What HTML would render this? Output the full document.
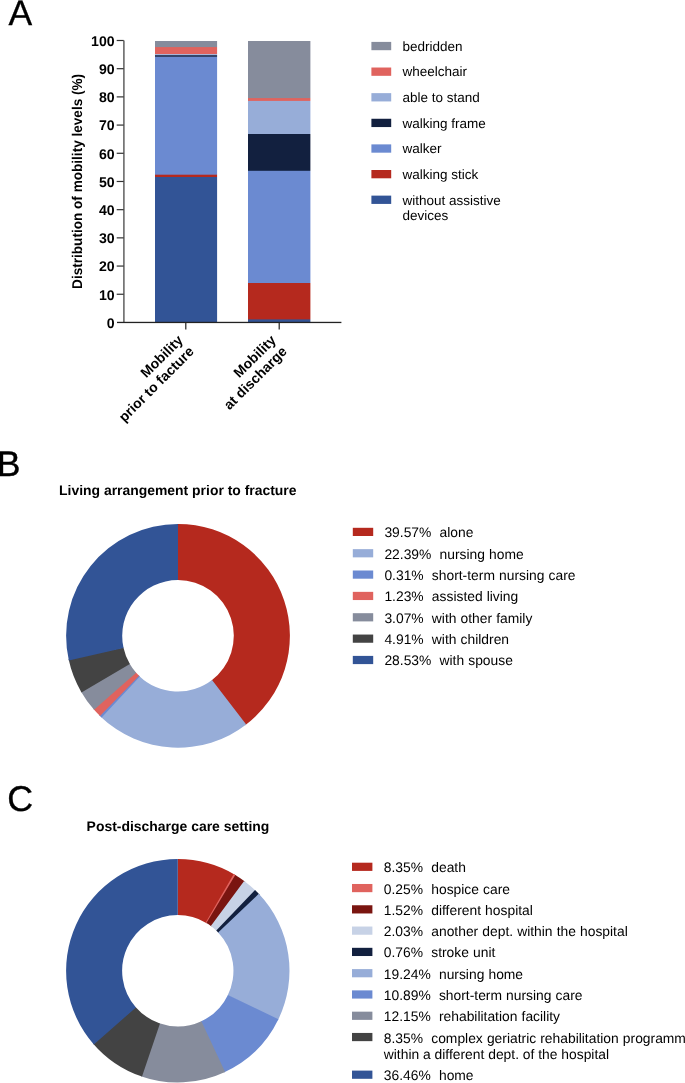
<!DOCTYPE html><html><head><meta charset="utf-8"><title>Figure</title><style>
html,body{margin:0;padding:0;background:#fff;}body{width:685px;height:1083px;overflow:hidden;}svg{display:block;}
text{font-family:"Liberation Sans",sans-serif;fill:#000;text-rendering:geometricPrecision;}
.b{font-weight:bold;}
</style></head><body>
<svg width="685" height="1083" viewBox="0 0 685 1083">
<rect width="685" height="1083" fill="#fff"/>
<text x="8.45" y="24.8" font-size="35.5" stroke="#000" stroke-width="0.3">A</text>
<text x="-3.2" y="475.8" font-size="35.6" stroke="#000" stroke-width="0.4">B</text>
<text x="7.3" y="810.6" font-size="35.8" stroke="#000" stroke-width="0.35">C</text>
<rect x="155" y="41" width="63" height="281.5" fill="#868c9c"/>
<rect x="155" y="47.1" width="63" height="275.4" fill="#e0635e"/>
<rect x="155" y="54" width="63" height="268.5" fill="#a9b6d8"/>
<rect x="155" y="55" width="63" height="267.5" fill="#34466b"/>
<rect x="155" y="57" width="63" height="265.5" fill="#6b8ad1"/>
<rect x="155" y="174.7" width="63" height="147.8" fill="#b5291e"/>
<rect x="155" y="177" width="63" height="145.5" fill="#325496"/>
<rect x="217.1" y="40" width="1.9" height="283.5" fill="#fff"/>
<rect x="248" y="41" width="63" height="281.5" fill="#868c9c"/>
<rect x="248" y="98.1" width="63" height="224.4" fill="#e0635e"/>
<rect x="248" y="100.9" width="63" height="221.6" fill="#97add8"/>
<rect x="248" y="134" width="63" height="188.5" fill="#12203f"/>
<rect x="248" y="170.8" width="63" height="151.7" fill="#6b8ad1"/>
<rect x="248" y="283" width="63" height="39.5" fill="#b5291e"/>
<rect x="248" y="319.4" width="63" height="3.1" fill="#325496"/>
<rect x="310.4" y="40" width="1.6" height="283.5" fill="#fff"/>
<rect x="123.2" y="40.5" width="1.4" height="282.5" fill="#555"/>
<rect x="117" y="321.8" width="224.4" height="1.3" fill="#222"/>
<text class="b" x="114.6" y="327.75" font-size="14.1" text-anchor="end">0</text>
<rect x="116.7" y="293.65" width="7" height="1.2" fill="#333"/>
<text class="b" x="114.6" y="299.56" font-size="14.1" text-anchor="end">10</text>
<rect x="116.7" y="265.46" width="7" height="1.2" fill="#333"/>
<text class="b" x="114.6" y="271.36" font-size="14.1" text-anchor="end">20</text>
<rect x="116.7" y="237.26" width="7" height="1.2" fill="#333"/>
<text class="b" x="114.6" y="243.16" font-size="14.1" text-anchor="end">30</text>
<rect x="116.7" y="209.07" width="7" height="1.2" fill="#333"/>
<text class="b" x="114.6" y="214.97" font-size="14.1" text-anchor="end">40</text>
<rect x="116.7" y="180.88" width="7" height="1.2" fill="#333"/>
<text class="b" x="114.6" y="186.78" font-size="14.1" text-anchor="end">50</text>
<rect x="116.7" y="152.68" width="7" height="1.2" fill="#333"/>
<text class="b" x="114.6" y="158.58" font-size="14.1" text-anchor="end">60</text>
<rect x="116.7" y="124.48" width="7" height="1.2" fill="#333"/>
<text class="b" x="114.6" y="130.38" font-size="14.1" text-anchor="end">70</text>
<rect x="116.7" y="96.29" width="7" height="1.2" fill="#333"/>
<text class="b" x="114.6" y="102.19" font-size="14.1" text-anchor="end">80</text>
<rect x="116.7" y="68.09" width="7" height="1.2" fill="#333"/>
<text class="b" x="114.6" y="73.99" font-size="14.1" text-anchor="end">90</text>
<rect x="116.7" y="39.90" width="7" height="1.2" fill="#333"/>
<text class="b" x="114.6" y="45.80" font-size="14.1" text-anchor="end">100</text>
<rect x="185.20000000000002" y="322.5" width="1.2" height="7" fill="#222"/>
<rect x="278.59999999999997" y="322.5" width="1.2" height="7" fill="#222"/>
<text class="b" font-size="14.15" text-anchor="middle" transform="translate(82.45,181.4) rotate(-90) scale(0.9605,1)">Distribution of mobility levels (%)</text>
<text class="b" font-size="14" text-anchor="end" transform="translate(183.7,341.1) rotate(-45)"><tspan x="0" y="0">Mobility</tspan><tspan x="0" y="15.8">prior to facture</tspan></text>
<text class="b" font-size="14" text-anchor="end" transform="translate(276.7,341.1) rotate(-45)"><tspan x="0" y="0">Mobility</tspan><tspan x="0" y="15.8">at discharge</tspan></text>
<rect x="371.4" y="41.90" width="19.8" height="8.3" fill="#868c9c"/>
<text x="402.5" y="50.60" font-size="13.5">bedridden</text>
<rect x="371.4" y="67.52" width="19.8" height="8.3" fill="#e0635e"/>
<text x="402.5" y="76.30" font-size="13.5">wheelchair</text>
<rect x="371.4" y="93.14" width="19.8" height="8.3" fill="#97add8"/>
<text x="402.5" y="102.00" font-size="13.5">able to stand</text>
<rect x="371.4" y="118.76" width="19.8" height="8.3" fill="#12203f"/>
<text x="402.5" y="127.70" font-size="13.5">walking frame</text>
<rect x="371.4" y="144.38" width="19.8" height="8.3" fill="#6b8ad1"/>
<text x="402.5" y="153.40" font-size="13.5">walker</text>
<rect x="371.4" y="170.00" width="19.8" height="8.3" fill="#b5291e"/>
<text x="402.5" y="179.10" font-size="13.5">walking stick</text>
<rect x="371.4" y="195.62" width="19.8" height="8.3" fill="#325496"/>
<text x="402.5" y="204.80" font-size="13.5">without assistive</text>
<text x="402.5" y="220.2" font-size="13.5">devices</text>
<path d="M178.00,523.90A111.9,111.9 0 0 1 245.15,725.31L211.48,680.44A55.8,55.8 0 0 0 178.00,580.00Z" fill="#b5291e"/>
<path d="M246.22,724.50A111.9,111.9 0 0 1 100.66,716.67L139.43,676.13A55.8,55.8 0 0 0 212.02,680.03Z" fill="#97add8"/>
<path d="M101.64,717.59A111.9,111.9 0 0 1 99.10,715.15L138.66,675.37A55.8,55.8 0 0 0 139.92,676.59Z" fill="#6b8ad1"/>
<path d="M100.06,716.09A111.9,111.9 0 0 1 93.21,708.82L135.72,672.21A55.8,55.8 0 0 0 139.13,675.84Z" fill="#e0635e"/>
<path d="M94.09,709.83A111.9,111.9 0 0 1 80.79,691.22L129.52,663.43A55.8,55.8 0 0 0 136.16,672.72Z" fill="#868c9c"/>
<path d="M81.46,692.38A111.9,111.9 0 0 1 68.55,659.08L123.42,647.41A55.8,55.8 0 0 0 129.86,664.01Z" fill="#434343"/>
<path d="M68.84,660.40A111.9,111.9 0 0 1 178.00,523.90L178.00,580.00A55.8,55.8 0 0 0 123.56,648.07Z" fill="#325496"/>
<path d="M177.80,859.05A111.7,111.7 0 0 1 234.91,874.75L206.25,922.92A55.65,55.65 0 0 0 177.80,915.10Z" fill="#b5291e"/>
<path d="M233.75,874.07A111.7,111.7 0 0 1 236.41,875.66L207.00,923.38A55.65,55.65 0 0 0 205.68,922.58Z" fill="#e0635e"/>
<path d="M235.26,874.96A111.7,111.7 0 0 1 245.21,881.68L211.38,926.38A55.65,55.65 0 0 0 206.43,923.03Z" fill="#7a1510"/>
<path d="M244.14,880.88A111.7,111.7 0 0 1 255.99,890.98L216.76,931.01A55.65,55.65 0 0 0 210.85,925.98Z" fill="#c7d2e6"/>
<path d="M255.03,890.05A111.7,111.7 0 0 1 259.71,894.80L218.61,932.91A55.65,55.65 0 0 0 216.28,930.54Z" fill="#12203f"/>
<path d="M258.79,893.83A111.7,111.7 0 0 1 277.83,1020.46L227.63,995.52A55.65,55.65 0 0 0 218.15,932.43Z" fill="#97add8"/>
<path d="M278.42,1019.26A111.7,111.7 0 0 1 223.89,1072.50L200.76,1021.44A55.65,55.65 0 0 0 227.93,994.92Z" fill="#6b8ad1"/>
<path d="M225.11,1071.94A111.7,111.7 0 0 1 140.75,1076.13L159.34,1023.25A55.65,55.65 0 0 0 201.37,1021.16Z" fill="#868c9c"/>
<path d="M142.02,1076.56A111.7,111.7 0 0 1 92.95,1043.39L135.53,1006.94A55.65,55.65 0 0 0 159.97,1023.47Z" fill="#434343"/>
<path d="M93.83,1044.41A111.7,111.7 0 0 1 177.80,859.05L177.80,915.10A55.65,55.65 0 0 0 135.96,1007.45Z" fill="#325496"/>
<text class="b" x="177.8" y="494.7" font-size="13.93" text-anchor="middle">Living arrangement prior to fracture</text>
<text class="b" x="178" y="830.5" font-size="13.95" text-anchor="middle">Post-discharge care setting</text>
<rect x="352.8" y="527.80" width="20.4" height="8.2" fill="#b5291e"/>
<text x="384.4" y="537.20" font-size="13.85" word-spacing="0.25" xml:space="preserve">39.57%  alone</text>
<rect x="352.8" y="549.15" width="20.4" height="8.2" fill="#97add8"/>
<text x="384.4" y="558.55" font-size="13.85" word-spacing="0.25" xml:space="preserve">22.39%  nursing home</text>
<rect x="352.8" y="570.50" width="20.4" height="8.2" fill="#6b8ad1"/>
<text x="384.4" y="579.90" font-size="13.85" word-spacing="0.25" xml:space="preserve">0.31%  short-term nursing care</text>
<rect x="352.8" y="591.85" width="20.4" height="8.2" fill="#e0635e"/>
<text x="384.4" y="601.25" font-size="13.85" word-spacing="0.25" xml:space="preserve">1.23%  assisted living</text>
<rect x="352.8" y="613.20" width="20.4" height="8.2" fill="#868c9c"/>
<text x="384.4" y="622.60" font-size="13.85" word-spacing="0.25" xml:space="preserve">3.07%  with other family</text>
<rect x="352.8" y="634.55" width="20.4" height="8.2" fill="#434343"/>
<text x="384.4" y="643.95" font-size="13.85" word-spacing="0.25" xml:space="preserve">4.91%  with children</text>
<rect x="352.8" y="655.90" width="20.4" height="8.2" fill="#325496"/>
<text x="384.4" y="665.30" font-size="13.85" word-spacing="0.25" xml:space="preserve">28.53%  with spouse</text>
<rect x="352" y="862.70" width="20.4" height="8.2" fill="#b5291e"/>
<text x="383.8" y="872.30" font-size="13.85" word-spacing="0.25" xml:space="preserve">8.35%  death</text>
<rect x="352" y="883.98" width="20.4" height="8.2" fill="#e0635e"/>
<text x="383.8" y="893.58" font-size="13.85" word-spacing="0.25" xml:space="preserve">0.25%  hospice care</text>
<rect x="352" y="905.26" width="20.4" height="8.2" fill="#7a1510"/>
<text x="383.8" y="914.86" font-size="13.85" word-spacing="0.25" xml:space="preserve">1.52%  different hospital</text>
<rect x="352" y="926.54" width="20.4" height="8.2" fill="#c7d2e6"/>
<text x="383.8" y="936.14" font-size="13.85" word-spacing="0.25" xml:space="preserve">2.03%  another dept. within the hospital</text>
<rect x="352" y="947.82" width="20.4" height="8.2" fill="#12203f"/>
<text x="383.8" y="957.42" font-size="13.85" word-spacing="0.25" xml:space="preserve">0.76%  stroke unit</text>
<rect x="352" y="969.10" width="20.4" height="8.2" fill="#97add8"/>
<text x="383.8" y="978.70" font-size="13.85" word-spacing="0.25" xml:space="preserve">19.24%  nursing home</text>
<rect x="352" y="990.38" width="20.4" height="8.2" fill="#6b8ad1"/>
<text x="383.8" y="999.98" font-size="13.85" word-spacing="0.25" xml:space="preserve">10.89%  short-term nursing care</text>
<rect x="352" y="1011.66" width="20.4" height="8.2" fill="#868c9c"/>
<text x="383.8" y="1021.26" font-size="13.85" word-spacing="0.25" xml:space="preserve">12.15%  rehabilitation facility</text>
<rect x="352" y="1032.94" width="20.4" height="8.2" fill="#434343"/>
<text x="383.8" y="1042.54" font-size="13.85" word-spacing="0.25" xml:space="preserve">8.35%  complex geriatric rehabilitation programm</text>
<text x="383.8" y="1058.5" font-size="13.85">within a different dept. of the hospital</text>
<rect x="352" y="1070.60" width="20.4" height="8.2" fill="#325496"/>
<text x="383.8" y="1080.20" font-size="13.85" word-spacing="0.25" xml:space="preserve">36.46%  home</text>
</svg></body></html>
